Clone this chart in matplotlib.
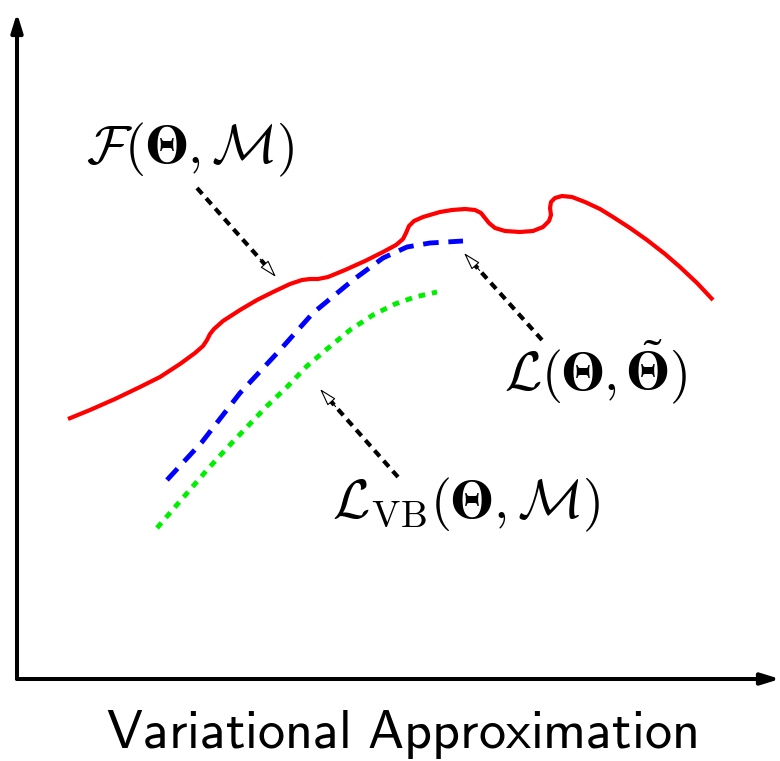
import matplotlib
matplotlib.use("Agg")
import matplotlib.pyplot as plt
from matplotlib.transforms import offset_copy

plt.rcParams['mathtext.fontset'] = 'cm'

# Curves (axis units: origin at the axes corner)
red_x = [51, 73, 98, 123, 143, 163, 178, 186, 190, 193, 197, 206, 223, 240, 256, 273, 285, 293, 301, 311,
         328, 348, 366, 379, 386, 389, 392, 397, 406, 423, 435, 448, 458, 464, 468, 472, 478, 488, 503,
         516, 526, 532, 534, 533, 534, 538, 545, 555, 568, 583, 596, 613, 630, 648, 663, 680, 696]
red_y = [260, 269, 280, 292, 302, 315, 326, 333, 339, 345, 350, 358, 369, 379, 387, 395, 399, 400, 400, 402,
         409, 418, 427, 434, 440, 446, 453, 458, 462, 467, 469, 470, 469, 466, 461, 456, 451, 448, 447,
         448, 452, 458, 464, 471, 477, 481, 483, 482, 477, 470, 462, 451, 439, 425, 412, 396, 379]

blue_x = [150, 185, 223, 263, 296, 336, 366, 390, 413, 446]
blue_y = [199, 237, 286, 329, 366, 399, 421, 432, 436, 438]

green_x = [140, 165, 190, 210, 230, 250, 270, 290, 310, 333, 356, 378, 398, 420]
green_y = [151, 180, 209, 231, 252, 273, 292, 313, 330, 349, 364, 375, 382, 387]

# label pieces: (math text, math font family, extra gap after in px) -- bold Theta from STIX
BOLD_THETA = (r'$\mathbf{\Theta}$', 'stix', 0)
label_F = [(r'$\mathcal{F}($', 'cm', 0), BOLD_THETA, (r'$,\mathcal{M})$', 'cm', 0)]
label_L = [(r'$\mathcal{L}($', 'cm', 0), BOLD_THETA, (r'$,$', 'cm', 10),
           (r'$\tilde{\mathbf{\Theta}}$', 'stix', 0), (r'$)$', 'cm', 0)]
label_LVB = [(r'$\mathcal{L}_{\mathrm{VB}}($', 'cm', 0), BOLD_THETA, (r'$,\mathcal{M})$', 'cm', 0)]
labels = [label_F, label_L, label_LVB]
label_x = [173, 578, 449]
label_y = [516, 289, 161]
arrow_start = [(180, 491), (525, 339), (381, 202)]
arrow_tip = [(259, 402), (447, 426), (303, 290)]

xlabel = r'$\mathsf{Variational\ Approximation}$'

W, H = 780, 761
fig = plt.figure(figsize=(W / 100, H / 100), dpi=100)
ax = fig.add_axes([17 / W, (H - 679) / H, (W - 17) / W, (679 - 10) / H])
ax.set_xlim(0, W - 17)
ax.set_ylim(0, 679 - 10)
ax.axis('off')

# axes arrows
axis_head = '-|>,head_length=0.55,head_width=0.17'
ax.annotate('', xy=(0, 666), xytext=(0, 0),
            arrowprops=dict(arrowstyle=axis_head, lw=2.9, color='black',
                            shrinkA=0, shrinkB=0, mutation_scale=20), annotation_clip=False)
ax.annotate('', xy=(763, 0), xytext=(0, 0),
            arrowprops=dict(arrowstyle=axis_head, lw=2.9, color='black',
                            shrinkA=0, shrinkB=0, mutation_scale=20), annotation_clip=False)

ax.plot(red_x, red_y, color='#ff0000', lw=3.0, solid_capstyle='butt', solid_joinstyle='round')
ax.plot(blue_x, blue_y, color='#0000ff', lw=3.5, dashes=(3.2, 2.0), dash_capstyle='butt')
ax.plot(green_x, green_y, color='#00ee00', lw=3.5, dashes=(1.4, 1.4), dash_capstyle='butt')

for (sx, sy), (tx, ty) in zip(arrow_start, arrow_tip):
    dx, dy = tx - sx, ty - sy
    ax.plot([sx, sx + 0.90 * dx], [sy, sy + 0.90 * dy], color='black', lw=3.0, dashes=(1.9, 1.4),
            dash_capstyle='butt')
    ax.annotate('', xy=(tx, ty), xytext=(sx + 0.8 * dx, sy + 0.8 * dy),
                arrowprops=dict(arrowstyle='-|>,head_length=0.6,head_width=0.18', lw=0.8,
                                ec='black', fc='white', shrinkA=0, shrinkB=0, mutation_scale=18))

renderer = fig.canvas.get_renderer()


def math_label(x, y, pieces, fontsize):
    texts = [ax.text(x, y, s, fontsize=fontsize, va='baseline', ha='left', math_fontfamily=fam)
             for s, fam, _ in pieces]
    widths = [t.get_window_extent(renderer).width + gap for t, (_, _, gap) in zip(texts, pieces)]
    off = -sum(widths) / 2
    for t, w in zip(texts, widths):
        t.set_transform(offset_copy(ax.transData, fig=fig, x=off, y=0, units='dots'))
        off += w


for pieces, x, y in zip(labels, label_x, label_y):
    math_label(x, y, pieces, 39)

ax.text(385, -69, xlabel, fontsize=39, ha='center', va='baseline', clip_on=False)

fig.savefig('out.png', dpi=100)
